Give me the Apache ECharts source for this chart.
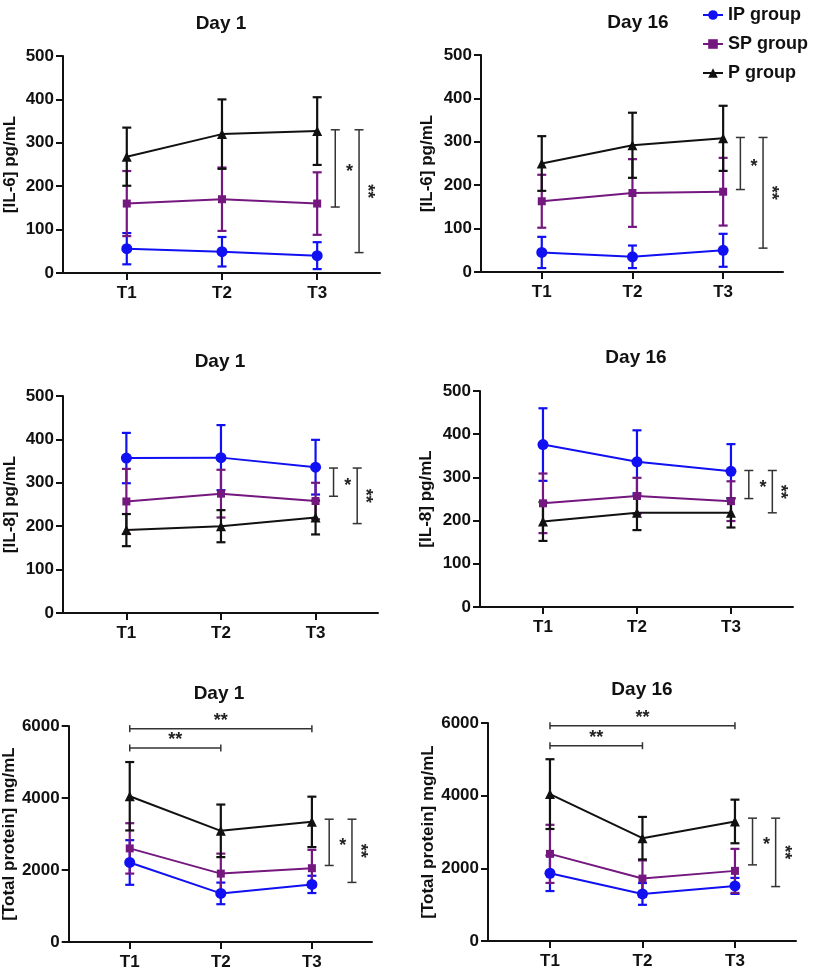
<!DOCTYPE html>
<html>
<head>
<meta charset="utf-8">
<script src="https://cdn.jsdelivr.net/npm/echarts@6/dist/echarts.min.js"></script>
<style>
  html, body { margin: 0; padding: 0; background: #fff; }
  #root { width: 813px; height: 971px; }
</style>
</head>
<body>
<div id="root"></div>
<script>
const categories = ['T1', 'T2', 'T3'];
const groups = ['IP group', 'SP group', 'P group'];

// [IL-6] Day 1
const il6D1_IP = [56, 49, 40];      const il6D1_IP_sd = [36, 34, 31];
const il6D1_SP = [160, 170, 160];   const il6D1_SP_sd = [75, 73, 72];
const il6D1_P = [268, 320, 327];    const il6D1_P_sd = [67, 80, 78];
// [IL-6] Day 16
const il6D16_IP = [45, 35, 50];     const il6D16_IP_sd = [36, 26, 38];
const il6D16_SP = [163, 182, 185];  const il6D16_SP_sd = [61, 78, 78];
const il6D16_P = [250, 292, 308];   const il6D16_P_sd = [63, 75, 75];
// [IL-8] Day 1
const il8D1_IP = [357, 358, 336];   const il8D1_IP_sd = [58, 75, 63];
const il8D1_SP = [257, 275, 258];   const il8D1_SP_sd = [75, 55, 42];
const il8D1_P = [191, 200, 220];    const il8D1_P_sd = [37, 37, 39];
// [IL-8] Day 16
const il8D16_IP = [376, 336, 314];  const il8D16_IP_sd = [84, 73, 63];
const il8D16_SP = [240, 257, 245];  const il8D16_SP_sd = [69, 42, 46];
const il8D16_P = [198, 218, 218];   const il8D16_P_sd = [45, 40, 34];
// [Total protein] Day 1
const protD1_IP = [2209, 1350, 1600]; const protD1_IP_sd = [620, 300, 240];
const protD1_SP = [2600, 1900, 2050]; const protD1_SP_sd = [700, 555, 510];
const protD1_P = [4049, 3088, 3337];  const protD1_P_sd = [950, 730, 700];
// [Total protein] Day 16
const protD16_IP = [1865, 1296, 1516]; const protD16_IP_sd = [490, 300, 220];
const protD16_SP = [2398, 1718, 1930]; const protD16_SP_sd = [800, 500, 606];
const protD16_P = [4043, 2830, 3290];  const protD16_P_sd = [960, 585, 600];

// group comparison brackets at T3: [top, bottom, label]
const il6D1_sig = [[330, 152, '*'], [330, 47, '**']];
const il6D16_sig = [[310, 190, '*'], [310, 55, '**']];
const il8D1_sig = [[334, 269, '*'], [334, 206, '**']];
const il8D16_sig = [[316, 251, '*'], [316, 218, '**']];
const protD1_sig = [[3411, 2126, '*'], [3411, 1655, '**']];
const protD16_sig = [[3381, 2095, '*'], [3381, 1498, '**']];
// time comparison brackets: [from T, to T, level, label]
const protD1_time = [[1, 3, 5926, '**'], [1, 2, 5390, '**']];
const protD16_time = [[1, 3, 5927, '**'], [1, 2, 5375, '**']];

const colors = ['#1010f2', '#74177f', '#111111'];
const symbols = ['circle', 'rect', 'triangle'];
const symbolSizes = [11, 8, 10];
const FONT = '"Liberation Sans", Arial, sans-serif';
const bracketX = [3.19, 3.44];
const starX = [3.34, 3.59];

const panels = [
  { title: 'Day 1', yName: '[IL-6] pg/mL', yMax: 500, yStep: 100, nameGap: 44,
    grid: { left: 63, top: 56, width: 317, height: 217 }, titlePos: [221, 14],
    mean: [il6D1_IP, il6D1_SP, il6D1_P], sd: [il6D1_IP_sd, il6D1_SP_sd, il6D1_P_sd],
    sig: il6D1_sig, time: [] },
  { title: 'Day 16', yName: '[IL-6] pg/mL', yMax: 500, yStep: 100, nameGap: 45,
    grid: { left: 481, top: 55, width: 302, height: 217 }, titlePos: [638, 13],
    mean: [il6D16_IP, il6D16_SP, il6D16_P], sd: [il6D16_IP_sd, il6D16_SP_sd, il6D16_P_sd],
    sig: il6D16_sig, time: [] },
  { title: 'Day 1', yName: '[IL-8] pg/mL', yMax: 500, yStep: 100, nameGap: 44,
    grid: { left: 63, top: 396, width: 315, height: 217 }, titlePos: [220, 352],
    mean: [il8D1_IP, il8D1_SP, il8D1_P], sd: [il8D1_IP_sd, il8D1_SP_sd, il8D1_P_sd],
    sig: il8D1_sig, time: [] },
  { title: 'Day 16', yName: '[IL-8] pg/mL', yMax: 500, yStep: 100, nameGap: 45,
    grid: { left: 480, top: 391, width: 313, height: 216 }, titlePos: [636, 348],
    mean: [il8D16_IP, il8D16_SP, il8D16_P], sd: [il8D16_IP_sd, il8D16_SP_sd, il8D16_P_sd],
    sig: il8D16_sig, time: [] },
  { title: 'Day 1', yName: '[Total protein] mg/mL', yMax: 6000, yStep: 2000, nameGap: 48,
    grid: { left: 68, top: 726, width: 304, height: 216 }, titlePos: [219, 684],
    mean: [protD1_IP, protD1_SP, protD1_P], sd: [protD1_IP_sd, protD1_SP_sd, protD1_P_sd],
    sig: protD1_sig, time: protD1_time },
  { title: 'Day 16', yName: '[Total protein] mg/mL', yMax: 6000, yStep: 2000, nameGap: 49,
    grid: { left: 488, top: 723, width: 308, height: 218 }, titlePos: [642, 680],
    mean: [protD16_IP, protD16_SP, protD16_P], sd: [protD16_IP_sd, protD16_SP_sd, protD16_P_sd],
    sig: protD16_sig, time: protD16_time }
];

function starText(x, y, label, rotate) {
  return {
    type: 'text', x: x, y: y, rotation: rotate ? -Math.PI / 2 : 0,
    style: { text: label, fill: '#222', font: 'bold 18px ' + FONT,
      align: 'center', verticalAlign: 'middle', textAlign: 'center', textVerticalAlign: 'middle' }
  };
}

function renderError(params, api) {
  const x = api.value(0);
  const lo = api.coord([x, api.value(1)]);
  const hi = api.coord([x, api.value(2)]);
  const w = 4.5;
  const style = { stroke: api.visual('color'), lineWidth: 2.2 };
  return {
    type: 'group',
    children: [
      { type: 'line', shape: { x1: lo[0], y1: lo[1], x2: hi[0], y2: hi[1] }, style: style },
      { type: 'line', shape: { x1: hi[0] - w, y1: hi[1], x2: hi[0] + w, y2: hi[1] }, style: style },
      { type: 'line', shape: { x1: lo[0] - w, y1: lo[1], x2: lo[0] + w, y2: lo[1] }, style: style }
    ]
  };
}

function makeSigRenderer(list) {
  return function (params, api) {
    const b = list[params.dataIndex];
    const top = api.coord([bracketX[params.dataIndex], b[0]]);
    const bot = api.coord([bracketX[params.dataIndex], b[1]]);
    const star = api.coord([starX[params.dataIndex], (b[0] + b[1]) / 2]);
    const w = 4.5;
    const style = { stroke: '#333', lineWidth: 1.5 };
    const double = b[2].length > 1;
    return {
      type: 'group',
      children: [
        { type: 'line', shape: { x1: top[0], y1: top[1], x2: bot[0], y2: bot[1] }, style: style },
        { type: 'line', shape: { x1: top[0] - w, y1: top[1], x2: top[0] + w, y2: top[1] }, style: style },
        { type: 'line', shape: { x1: bot[0] - w, y1: bot[1], x2: bot[0] + w, y2: bot[1] }, style: style },
        starText(star[0] + (double ? -6 : 0), star[1] + (double ? 0 : 4), b[2], double)
      ]
    };
  };
}

function makeTimeRenderer(list) {
  return function (params, api) {
    const b = list[params.dataIndex];
    const a = api.coord([b[0], b[2]]);
    const c = api.coord([b[1], b[2]]);
    const h = 3.5;
    const style = { stroke: '#333', lineWidth: 1.5 };
    return {
      type: 'group',
      children: [
        { type: 'line', shape: { x1: a[0], y1: a[1], x2: c[0], y2: c[1] }, style: style },
        { type: 'line', shape: { x1: a[0], y1: a[1] - h, x2: a[0], y2: a[1] + h }, style: style },
        { type: 'line', shape: { x1: c[0], y1: c[1] - h, x2: c[0], y2: c[1] + h }, style: style },
        starText((a[0] + c[0]) / 2, a[1] - 8, b[3], false)
      ]
    };
  };
}

const option = {
  animation: false,
  backgroundColor: '#fff',
  textStyle: { fontFamily: FONT },
  title: [],
  legend: {
    data: groups, orient: 'vertical', left: 702, top: 6, padding: 0,
    itemWidth: 20, itemHeight: 12, itemGap: 11,
    textStyle: { fontSize: 18, fontWeight: 'bold', color: '#111', fontFamily: FONT }
  },
  grid: [], xAxis: [], yAxis: [], series: []
};

panels.forEach(function (p, i) {
  option.title.push({
    text: p.title, left: p.titlePos[0], top: p.titlePos[1], textAlign: 'center', padding: 0,
    textStyle: { fontSize: 19, fontWeight: 'bold', color: '#111', fontFamily: FONT }
  });
  option.grid.push(Object.assign({ containLabel: false }, p.grid));
  option.xAxis.push({
    type: 'value', gridIndex: i, min: 0.33, max: 3.66,
    axisLine: { show: true, lineStyle: { color: '#111', width: 2 } },
    axisTick: { show: true, customValues: [1, 2, 3], length: 7, lineStyle: { color: '#111', width: 2 } },
    axisLabel: { customValues: [1, 2, 3], formatter: function (v) { return categories[Math.round(v) - 1]; },
      margin: 12, fontSize: 17, fontWeight: 'bold', color: '#111', fontFamily: FONT },
    splitLine: { show: false }
  });
  option.yAxis.push({
    type: 'value', gridIndex: i, min: 0, max: p.yMax, interval: p.yStep,
    name: p.yName, nameLocation: 'middle', nameGap: p.nameGap,
    nameTextStyle: { fontSize: 17, fontWeight: 'bold', color: '#111', fontFamily: FONT },
    axisLine: { show: true, lineStyle: { color: '#111', width: 2 } },
    axisTick: { show: true, length: 7, lineStyle: { color: '#111', width: 2 } },
    axisLabel: { margin: 9, fontSize: 17, fontWeight: 'bold', color: '#111', fontFamily: FONT,
      formatter: function (v) { return String(v); } },
    splitLine: { show: false }
  });

  groups.forEach(function (g, k) {
    option.series.push({
      type: 'custom', xAxisIndex: i, yAxisIndex: i, z: 2,
      itemStyle: { color: colors[k] },
      renderItem: renderError,
      data: p.mean[k].map(function (m, t) { return [t + 1, m - p.sd[k][t], m + p.sd[k][t]]; })
    });
  });
  groups.forEach(function (g, k) {
    option.series.push({
      name: g, type: 'line', xAxisIndex: i, yAxisIndex: i, z: 3,
      symbol: symbols[k], symbolSize: symbolSizes[k],
      itemStyle: { color: colors[k] },
      lineStyle: { color: colors[k], width: 2 },
      data: p.mean[k].map(function (m, t) { return [t + 1, m]; })
    });
  });
  option.series.push({
    type: 'custom', xAxisIndex: i, yAxisIndex: i, z: 4,
    renderItem: makeSigRenderer(p.sig),
    data: p.sig.map(function (b, j) { return [bracketX[j], b[0], b[1]]; })
  });
  if (p.time.length) {
    option.series.push({
      type: 'custom', xAxisIndex: i, yAxisIndex: i, z: 4,
      renderItem: makeTimeRenderer(p.time),
      data: p.time.map(function (b) { return [b[0], b[2], b[1]]; })
    });
  }
});

const chart = echarts.init(document.getElementById('root'));
chart.setOption(option);
window.addEventListener('resize', function () { chart.resize(); });
</script>
</body>
</html>
